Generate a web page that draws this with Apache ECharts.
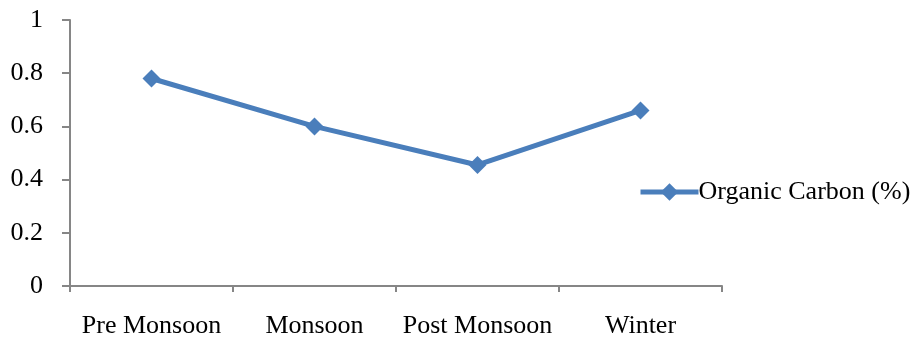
<!DOCTYPE html>
<html>
<head>
<meta charset="utf-8">
<script src="https://cdn.jsdelivr.net/npm/echarts@6/dist/echarts.min.js"></script>
<style>
  html, body { margin: 0; padding: 0; background: #fff; }
  #chart { width: 915px; height: 339px; }
</style>
</head>
<body>
<div id="chart"></div>
<script>
// Seasonal organic carbon content
const seasons = ['Pre Monsoon', 'Monsoon', 'Post Monsoon', 'Winter'];
const organicCarbon = [0.78, 0.6, 0.455, 0.66];
const seriesName = 'Organic Carbon (%)';

const axisGray = '#868686';
const lineBlue = '#4a7ebb';
const serif = '"Liberation Serif", "Times New Roman", serif';

const chart = echarts.init(document.getElementById('chart'), null, { renderer: 'canvas' });
chart.setOption({
  animation: false,
  grid: { left: 70, right: 193, top: 20, bottom: 53, containLabel: false },
  legend: {
    orient: 'vertical',
    left: 633,
    top: 174,
    itemWidth: 58,
    itemHeight: 22,
    itemGap: 0,
    lineStyle: { width: 5 },
    textStyle: { fontFamily: serif, fontSize: 26, color: '#000', padding: [0, 0, 0, -5] },
    data: [{ name: seriesName }]
  },
  xAxis: {
    type: 'category',
    data: seasons,
    boundaryGap: true,
    axisLine: { lineStyle: { color: axisGray, width: 2 } },
    axisTick: { show: true, interval: 0, length: 6, lineStyle: { color: axisGray, width: 2 } },
    axisLabel: { interval: 0, margin: 27, fontFamily: serif, fontSize: 26, color: '#000' },
    splitLine: { show: false }
  },
  yAxis: {
    type: 'value',
    min: 0,
    max: 1,
    interval: 0.2,
    axisLine: { show: true, lineStyle: { color: axisGray, width: 2 } },
    axisTick: { show: true, length: 8, lineStyle: { color: axisGray, width: 2 } },
    axisLabel: {
      margin: 27,
      fontFamily: serif,
      fontSize: 26,
      color: '#000',
      formatter: v => String(Math.round(v * 10) / 10)
    },
    splitLine: { show: false }
  },
  series: [{
    name: seriesName,
    type: 'line',
    data: organicCarbon,
    symbol: 'diamond',
    symbolSize: 18,
    lineStyle: { color: lineBlue, width: 5 },
    itemStyle: { color: lineBlue },
    emphasis: { disabled: true }
  }]
});
</script>
</body>
</html>
